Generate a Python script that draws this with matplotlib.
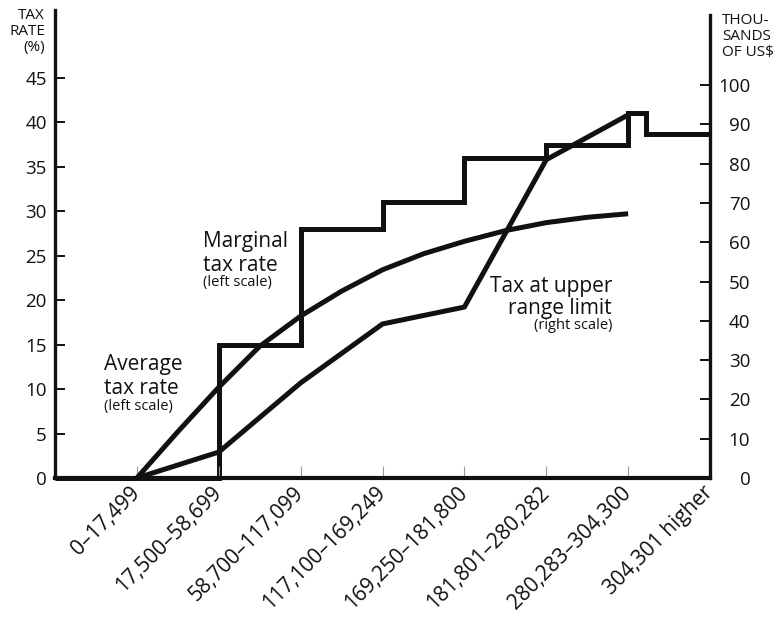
import numpy as np
import matplotlib.pyplot as plt

plt.rcParams['font.family'] = ['Open Sans', 'DejaVu Sans']

# income brackets (US$)
brackets = ["0\u201317,499", "17,500\u201358,699", "58,700\u2013117,099", "117,100\u2013169,249",
            "169,250\u2013181,800", "181,801\u2013280,282", "280,283\u2013304,300", "304,301 higher"]
bracket_pos = [1, 2, 3, 4, 5, 6, 7, 8]

# marginal tax rate (%), step edges on the bracket axis
marginal_edges = [0, 2, 3, 4, 5, 6, 7, 7.22, 8]
marginal_rate = [0, 15, 28, 31, 36, 37.4, 41, 38.7]

# average tax rate (%)
avg_x = [1, 1.5, 2, 2.5, 3, 3.5, 4, 4.5, 5, 5.5, 6, 6.5, 7]
avg_rate = [0, 5.2, 10.2, 14.8, 18.2, 21.0, 23.4, 25.2, 26.6, 27.8, 28.7, 29.3, 29.7]

# tax at upper range limit (thousands of US$)
tax_x = [1, 2, 3, 4, 5, 6, 7]
tax_upper = [0, 6.6, 24.2, 39.2, 43.5, 81, 92.4]

ink = "#111111"
lw = 3.6

fig = plt.figure(figsize=(7.82, 6.24), dpi=100)
ax = fig.add_axes([55/782, 146/624, 655/782, 468/624])
ax2 = ax.twinx()

ax.set_xlim(0, 8)
ax.set_ylim(0, 52.6)
ax2.set_ylim(0, 119.1)

ax.stairs(marginal_rate, marginal_edges, baseline=None, color=ink, lw=lw, clip_on=False)
ax.plot(avg_x, avg_rate, color=ink, lw=lw, solid_capstyle='butt', solid_joinstyle='round',
        clip_on=False)
ax2.plot(tax_x, tax_upper, color=ink, lw=lw, solid_capstyle='butt', clip_on=False)

# spines
for s in ["top", "right"]:
    ax.spines[s].set_visible(False)
for s in ["top", "left", "bottom"]:
    ax2.spines[s].set_visible(False)
ax.spines["left"].set_linewidth(2.4)
ax.spines["bottom"].set_linewidth(3.0)
ax2.spines["right"].set_linewidth(2.4)
ax2.spines["right"].set_bounds(0, 117.8)
for sp in [ax.spines["left"], ax.spines["bottom"], ax2.spines["right"]]:
    sp.set_color(ink)

# ticks
ax.set_yticks(range(0, 50, 5))
ax.tick_params(axis='y', direction='in', length=7.5, width=1.4, color=ink,
               labelsize=13.5, pad=6, labelcolor=ink)
ax2.set_yticks(range(0, 110, 10))
ax2.tick_params(axis='y', direction='in', length=7.5, width=1.4, color=ink,
                labelsize=13.5, pad=29, labelcolor=ink)
for t in ax2.get_yticklabels():
    t.set_horizontalalignment('right')

ax.set_xticks(bracket_pos)
ax.set_xticklabels(brackets, rotation=45, ha='right', va='center', rotation_mode='anchor')
ax.tick_params(axis='x', direction='in', length=9, width=0.8, color='#999999',
               labelsize=15, pad=8.5, labelcolor=ink)

# axis titles
fig.text(45/782, 1 - 8/624, "TAX\nRATE\n(%)", ha='right', va='top', fontsize=11,
         linespacing=1.1, color=ink)
fig.text(722/782, 1 - 13/624, "THOU-\nSANDS\nOF US$", ha='left', va='top', fontsize=11,
         linespacing=1.1, color=ink)

# series labels, one line at a time (baselines in pixels from the top)
def label(x, lines, ha='left'):
    for text, y, size in lines:
        fig.text(x/782, 1 - y/624, text, ha=ha, va='baseline', fontsize=size, color=ink)

label(203, [("Marginal", 247, 15), ("tax rate", 271, 15), ("(left scale)", 286, 10.5)])
label(104, [("Average", 370, 15), ("tax rate", 394, 15), ("(left scale)", 410, 10.5)])
label(612, [("Tax at upper", 292, 15), ("range limit", 314, 15), ("(right scale)", 329, 10.5)],
      ha='right')

fig.savefig("out.png", dpi=100)
